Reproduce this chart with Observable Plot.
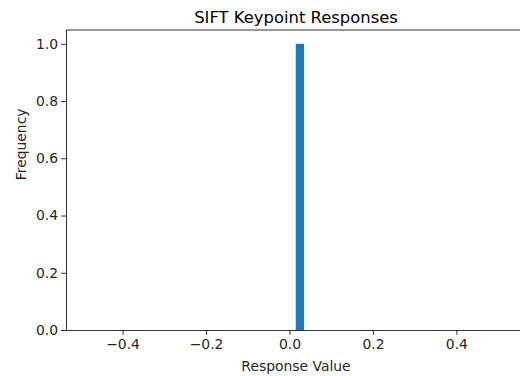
<!DOCTYPE html>
<html>
<head>
<meta charset="utf-8">
<script src="https://cdn.jsdelivr.net/npm/d3@7"></script>
<script src="https://cdn.jsdelivr.net/npm/@observablehq/plot@0.6"></script>
<style>
  html, body { margin: 0; padding: 0; background: #fff; }
  #chart svg { display: block; }
</style>
</head>
<body>
<div id="chart"></div>
<script>
// Histogram of SIFT keypoint responses: one occupied bin
const binStart = [0.015];
const binEnd = [0.035];
const frequency = [1];

// Axis domains and tick values
const xDomain = [-0.5356, 0.5644];
const yDomain = [0, 1.05];
const xTicks = [-0.4, -0.2, 0.0, 0.2, 0.4];
const yTicks = [0.0, 0.2, 0.4, 0.6, 0.8, 1.0];

const bins = binStart.map((x1, i) => ({x1, x2: binEnd[i], y: frequency[i]}));

const font = "DejaVu Sans, sans-serif";
const fmt = d3.format(".1f");

const chart = Plot.plot({
  width: 520,
  height: 376,
  marginLeft: 66,
  marginRight: -5,
  marginTop: 29.5,
  marginBottom: 46,
  style: {fontFamily: font, fontSize: "13.9px", color: "#262626", background: "#fff"},
  x: {domain: xDomain},
  y: {domain: yDomain},
  marks: [
    Plot.rectY(bins, {x1: "x1", x2: "x2", y: "y", fill: "#1f77b4", inset: 0}),
    Plot.frame({stroke: "#000", strokeWidth: 0.8}),
    Plot.axisX({
      ticks: xTicks, tickFormat: fmt, tickSize: 4.9, tickPadding: 3.5,
      label: null, stroke: "#000", strokeWidth: 0.8
    }),
    Plot.axisY({
      ticks: yTicks, tickFormat: fmt, tickSize: 4.9, tickPadding: 3.5,
      label: null, stroke: "#000", strokeWidth: 0.8
    }),
    // axis titles and chart title
    Plot.text(["Response Value"], {
      frameAnchor: "bottom", dy: 40, fill: "#262626"
    }),
    Plot.text(["Frequency"], {
      frameAnchor: "left", rotate: -90, dx: -45, fill: "#262626"
    }),
    Plot.text(["SIFT Keypoint Responses"], {
      frameAnchor: "top", dy: -18.5, fontSize: 16.4, fill: "#000"
    })
  ]
});

document.getElementById("chart").appendChild(chart);
</script>
</body>
</html>
